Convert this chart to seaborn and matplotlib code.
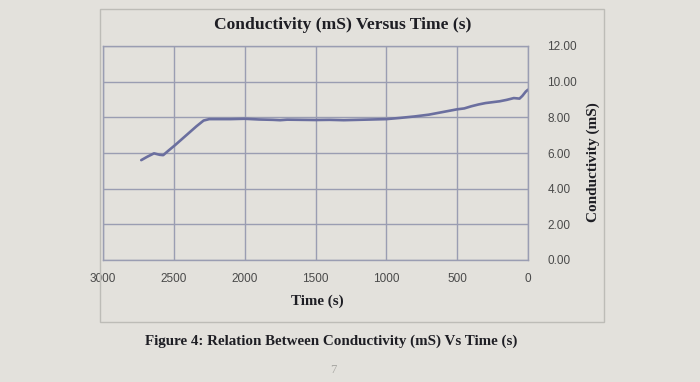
import matplotlib
matplotlib.use("Agg")
import matplotlib.pyplot as plt
import seaborn as sns
import pandas as pd
from matplotlib.patches import Rectangle

# ---- data ----
time_s = [2730, 2690, 2640, 2600, 2575, 2540, 2490, 2440, 2390, 2340, 2290, 2250,
          2200, 2100, 2000, 1900, 1800, 1750, 1700, 1600, 1500, 1400, 1300, 1200,
          1100, 1000, 900, 800, 700, 600, 500, 450, 400, 350, 300, 250, 200, 150,
          100, 60, 40, 15, 0]
conductivity = [5.6, 5.78, 5.98, 5.9, 5.88, 6.12, 6.45, 6.8, 7.15, 7.5, 7.82, 7.9,
                7.9, 7.9, 7.92, 7.88, 7.86, 7.84, 7.87, 7.86, 7.85, 7.86, 7.84, 7.86,
                7.88, 7.9, 7.97, 8.05, 8.15, 8.3, 8.45, 8.5, 8.62, 8.72, 8.8, 8.85,
                8.9, 8.98, 9.08, 9.05, 9.2, 9.45, 9.55]
x_ticks = [3000, 2500, 2000, 1500, 1000, 500, 0]
y_ticks = [0, 2, 4, 6, 8, 10, 12]
y_tick_labels = ["0.00", "2.00", "4.00", "6.00", "8.00", "10.00", "12.00"]

df = pd.DataFrame({"Time": time_s, "Conductivity": conductivity})

sns.set_theme(style="white")
plt.rcParams["font.family"] = ["Liberation Sans", "DejaVu Sans"]

W, H = 700, 382
BG = "#e3e1dc"
fig = plt.figure(figsize=(W / 100, H / 100), dpi=100, facecolor=BG)

# chart-area border
fig.patches.append(Rectangle((100 / W, 1 - 322 / H), (604 - 100) / W, (322 - 9) / H,
                             transform=fig.transFigure, fill=False,
                             edgecolor="#bdbcb7", linewidth=1.0, zorder=0))

ax = fig.add_axes([103 / W, 1 - 260 / H, (528 - 103) / W, (260 - 46) / H])
ax.set_facecolor(BG)

sns.lineplot(data=df, x="Time", y="Conductivity", ax=ax, color="#6b6f9f",
             linewidth=1.9, estimator=None, sort=False)

ax.set_xlim(3000, 0)
ax.set_ylim(0, 12)
ax.set_xticks(x_ticks)
ax.set_xticklabels([str(v) for v in x_ticks])
ax.set_yticks(y_ticks)
ax.set_yticklabels(y_tick_labels)
ax.yaxis.tick_right()
ax.tick_params(axis="y", length=0, pad=14, labelsize=8.5, labelcolor="#4a4a4a")
ax.tick_params(axis="x", length=0, pad=9, labelsize=8.5, labelcolor="#4a4a4a")
ax.grid(True, color="#9a9db2", linewidth=1.0)
for s in ax.spines.values():
    s.set_color("#9a9db2")
    s.set_linewidth(1.0)
ax.set_xlabel("")
ax.set_ylabel("")

serif = ["Liberation Serif", "DejaVu Serif"]
fig.text(343 / W, 1 - 25 / H, "Conductivity (mS) Versus Time (s)", ha="center", va="center",
         family=serif, fontweight="bold", fontsize=12.6, color="#1e1e24")
fig.text(317 / W, 1 - 301 / H, "Time (s)", ha="center", va="center",
         family=serif, fontweight="bold", fontsize=10.8, color="#1e1e24")
fig.text(593 / W, 1 - 162 / H, "Conductivity (mS)", ha="center", va="center", rotation=90,
         family=serif, fontweight="bold", fontsize=11, color="#1e1e24")
fig.text(331 / W, 1 - 341 / H, "Figure 4: Relation Between Conductivity (mS) Vs Time (s)",
         ha="center", va="center", family=serif, fontweight="bold", fontsize=10.8,
         color="#1e1e24")
fig.text(333 / W, 1 - 370 / H, "7", ha="center", va="center",
         family=serif, fontsize=9, color="#a9a8a4")

fig.savefig("out.png", dpi=100, facecolor=BG)
